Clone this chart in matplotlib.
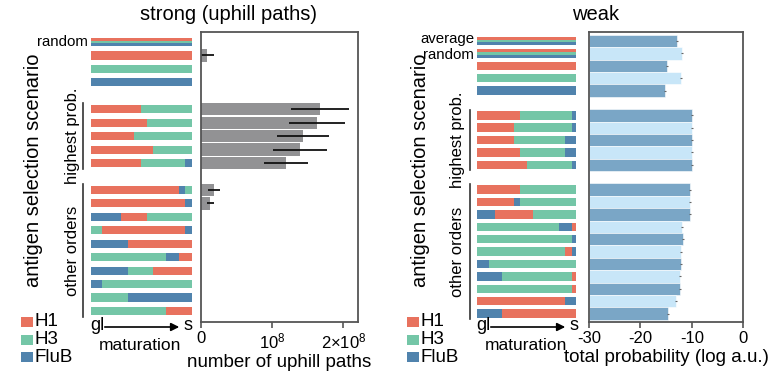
import matplotlib.pyplot as plt
from matplotlib.lines import Line2D
from matplotlib.patches import Rectangle, FancyArrowPatch

plt.rcParams['font.family'] = ['Liberation Sans', 'DejaVu Sans']
plt.rcParams['mathtext.fontset'] = 'custom'
plt.rcParams['mathtext.rm'] = 'Liberation Sans'
plt.rcParams['axes.unicode_minus'] = False

COLORS = {"H1": "#e8725e", "H3": "#74c6a7", "FluB": "#5083ad"}
GRAY = "#929294"
DARK = "#7aa6c6"
LIGHT = "#c8e6f8"
SPINE = "#555555"

W, H = 775, 375

# ---- strong (uphill paths) ----
# each sequence row: list of (antigen, fraction of maturation)
strong_top_labels = ["random", "", "", ""]
strong_top_seqs = ["mix", [("H1", 1.0)], [("H3", 1.0)], [("FluB", 1.0)]]
strong_hp_seqs = [
    [("H1", 0.50), ("H3", 0.50)],
    [("H1", 0.56), ("H3", 0.44)],
    [("H1", 0.43), ("H3", 0.57)],
    [("H1", 0.62), ("H3", 0.38)],
    [("H1", 0.50), ("H3", 0.43), ("FluB", 0.07)],
]
strong_oo_seqs = [
    [("H1", 0.875), ("FluB", 0.059), ("H3", 0.066)],
    [("H1", 0.934), ("FluB", 0.066)],
    [("FluB", 0.30), ("H1", 0.258), ("H3", 0.442)],
    [("H3", 0.116), ("H1", 0.818), ("FluB", 0.066)],
    [("FluB", 0.37), ("H1", 0.63)],
    [("H3", 0.746), ("FluB", 0.129), ("H1", 0.125)],
    [("FluB", 0.37), ("H3", 0.25), ("H1", 0.38)],
    [("FluB", 0.116), ("H3", 0.884)],
    [("H3", 0.37), ("FluB", 0.63)],
    [("H3", 0.746), ("H1", 0.254)],
]
strong_top_vals = [0, 8.5e6, 0, 0]
strong_top_err = [0, 8.9e6, 0, 0]
strong_hp_vals = [1.67e8, 1.63e8, 1.43e8, 1.39e8, 1.19e8]
strong_hp_err = [0.41e8, 0.39e8, 0.37e8, 0.385e8, 0.31e8]
strong_oo_vals = [1.83e7, 1.27e7, 0, 0, 0, 0, 0, 0, 0, 0]
strong_oo_err = [8.7e6, 5.0e6, 0, 0, 0, 0, 0, 0, 0, 0]
strong_ticks = [0, 1e8, 2e8]
strong_ticklabels = ["0", r"$\mathregular{10^8}$", r"2×$\mathregular{10^8}$"]

# ---- weak ----
weak_top_labels = ["average", "random", "", "", ""]
weak_top_seqs = ["mix", "mix", [("H1", 1.0)], [("H3", 1.0)], [("FluB", 1.0)]]
weak_hp_seqs = [
    [("H1", 0.437), ("H3", 0.522), ("FluB", 0.041)],
    [("H1", 0.376), ("H3", 0.583), ("FluB", 0.041)],
    [("H1", 0.376), ("H3", 0.519), ("FluB", 0.105)],
    [("H1", 0.437), ("H3", 0.458), ("FluB", 0.105)],
    [("H1", 0.505), ("H3", 0.454), ("FluB", 0.041)],
]
weak_oo_seqs = [
    [("H1", 0.437), ("H3", 0.563)],
    [("H1", 0.376), ("FluB", 0.061), ("H3", 0.563)],
    [("FluB", 0.183), ("H1", 0.387), ("H3", 0.43)],
    [("H3", 0.83), ("FluB", 0.129), ("H1", 0.041)],
    [("H3", 0.959), ("FluB", 0.041)],
    [("H3", 0.895), ("H1", 0.064), ("FluB", 0.041)],
    [("FluB", 0.119), ("H3", 0.881)],
    [("FluB", 0.247), ("H3", 0.712), ("H1", 0.041)],
    [("H3", 0.959), ("H1", 0.041)],
    [("H1", 0.895), ("FluB", 0.105)],
    [("FluB", 0.247), ("H1", 0.753)],
]
weak_top_vals = [-12.9, -11.9, -14.8, -12.2, -15.2]
weak_hp_vals = [-9.95, -9.9, -9.95, -9.95, -9.9]
weak_oo_vals = [-10.3, -10.4, -10.4, -11.9, -11.75, -12.05, -12.05, -12.3, -12.25, -13.1, -14.6]
weak_err = 0.2
weak_ticks = [-30, -20, -10, 0]


def fx(x):
    return x / W


def fy(y):
    return 1 - y / H


def add_axes(fig, x0, x1, y0, y1):
    return fig.add_axes([fx(x0), fy(y1), fx(x1 - x0), (y1 - y0) / H])


def rows_for(groups):
    # row index for every item, with one empty row between groups
    out = []
    r = 0
    for g in groups:
        out.append(list(range(r, r + len(g))))
        r += len(g) + 1
    return out


def draw_seqs(ax, rows, seqs, h):
    for r, seq in zip(rows, seqs):
        if seq == "mix":
            for k, name in enumerate(["H1", "H3", "FluB"]):
                ax.barh(r - h / 2 + h / 6 + k * h / 3, 1.0, height=h / 3,
                        color=COLORS[name], linewidth=0)
            continue
        left = 0.0
        for name, frac in seq:
            ax.barh(r, frac, left=left, height=h, color=COLORS[name], linewidth=0)
            left += frac


def seq_panel(ax, groups, labels, ylim, h, line_x, label_x):
    rows = rows_for(groups)
    for rr, g in zip(rows, groups):
        draw_seqs(ax, rr, g, h)
    ax.set_xlim(0, 1)
    ax.set_ylim(*ylim)
    ax.axis("off")
    tr = ax.get_yaxis_transform()
    labs = [(r, lab) for r, lab in zip(rows[0], labels) if lab]
    # spread two stacked labels slightly apart
    shift = [0.0] if len(labs) == 1 else [-0.14, 0.16]
    for (r, lab), d in zip(labs, shift):
        ax.text(-0.03, r + d, lab, transform=tr, ha="right", va="center", fontsize=10.8)
    for rr, name in zip(rows[1:], ["highest prob.", "other orders"]):
        ax.add_line(Line2D([line_x, line_x], [rr[0] - 0.45, rr[-1] + 0.45],
                           transform=tr, color="#333333", lw=1.2, clip_on=False))
        ax.text(label_x, (rr[0] + rr[-1]) / 2, name, transform=tr, rotation=90,
                ha="center", va="center", fontsize=12)
    return rows


def frame(ax):
    for s in ax.spines.values():
        s.set_color(SPINE)
        s.set_linewidth(1.3)
    ax.set_yticks([])
    ax.tick_params(axis="x", direction="out", length=4, width=1.2, color=SPINE,
                   labelsize=12, pad=3)


fig = plt.figure(figsize=(W / 100, H / 100), dpi=100)

# strong
s_ylim = (20.8, -0.77)
ax_sseq = add_axes(fig, 90.7, 191.7, 31.7, 321.7)
s_groups = [strong_top_seqs, strong_hp_seqs, strong_oo_seqs]
s_rows = seq_panel(ax_sseq, s_groups, strong_top_labels, s_ylim, 0.6, -0.076, -0.185)

ax_s = add_axes(fig, 201.3, 357.7, 31.7, 321.7)
for rr, vals, errs in zip(s_rows, [strong_top_vals, strong_hp_vals, strong_oo_vals],
                          [strong_top_err, strong_hp_err, strong_oo_err]):
    ax_s.barh(rr, vals, height=0.92, color=GRAY, linewidth=0)
    ax_s.errorbar(vals, rr, xerr=errs, fmt="none", ecolor="#111111", elinewidth=1.3)
ax_s.set_xlim(0, 2.2e8)
ax_s.set_ylim(*s_ylim)
ax_s.set_xticks(strong_ticks)
ax_s.set_xticklabels(strong_ticklabels)
frame(ax_s)
ax_s.set_xlabel("number of uphill paths", fontsize=13.5, labelpad=2)

# weak
w_ylim = (22.66, -0.75)
ax_wseq = add_axes(fig, 477.3, 575.7, 31.7, 321.7)
w_groups = [weak_top_seqs, weak_hp_seqs, weak_oo_seqs]
w_rows = seq_panel(ax_wseq, w_groups, weak_top_labels, w_ylim, 0.68, -0.074, -0.206)

ax_w = add_axes(fig, 589, 743.3, 31.7, 321.7)
for rr, vals in zip(w_rows, [weak_top_vals, weak_hp_vals, weak_oo_vals]):
    cols = [DARK if i % 2 == 0 else LIGHT for i in range(len(vals))]
    ax_w.barh(rr, [v + 30 for v in vals], left=-30, height=1.0, color=cols,
              edgecolor="white", linewidth=0.4)
    ax_w.errorbar(vals, rr, xerr=weak_err, fmt="none", ecolor="#666666", elinewidth=0.8)
ax_w.set_xlim(-30, 0)
ax_w.set_ylim(*w_ylim)
ax_w.set_xticks(weak_ticks)
frame(ax_w)
ax_w.set_xlabel("total probability (log a.u.)", fontsize=13.5, labelpad=2)

# titles and side labels
fig.text(fx(228), fy(14), "strong (uphill paths)", ha="center", va="center", fontsize=14.5)
fig.text(fx(596), fy(14), "weak", ha="center", va="center", fontsize=14.5)
for x in [34, 420]:
    fig.text(fx(x), fy(170), "antigen selection scenario", rotation=90,
             ha="center", va="center", fontsize=14.5)

# legends and maturation arrows
for lx, sx in [(21, 90), (407, 476)]:
    for yc, name in zip([322, 340, 357], ["H1", "H3", "FluB"]):
        fig.add_artist(Rectangle((fx(lx), fy(yc + 5)), fx(12), 10 / H,
                                 transform=fig.transFigure, color=COLORS[name], lw=0))
        fig.text(fx(lx + 14), fy(yc), name, ha="left", va="center", fontsize=13.5)
    fig.text(fx(sx), fy(326), "gl", ha="left", va="center", fontsize=13)
    fig.add_artist(FancyArrowPatch((fx(sx + 12), fy(327)), (fx(sx + 92), fy(327)),
                                   transform=fig.transFigure, arrowstyle="-|>",
                                   mutation_scale=12, color="black", lw=1.2))
    fig.text(fx(sx + 93), fy(326), "s", ha="left", va="center", fontsize=13)
    fig.text(fx(sx + 50), fy(346), "maturation", ha="center", va="center", fontsize=12.5)

fig.savefig("out.png", dpi=100)
